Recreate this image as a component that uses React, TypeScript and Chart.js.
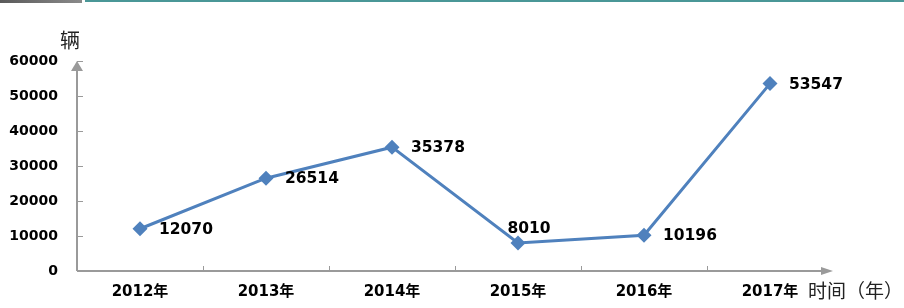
import React, { useEffect, useRef } from "react";
import { Chart, registerables } from "chart.js";

Chart.register(...registerables);

const categories = ["2012年", "2013年", "2014年", "2015年", "2016年", "2017年"];
const vehicles = [12070, 26514, 35378, 8010, 10196, 53547];
const yTicks = [0, 10000, 20000, 30000, 40000, 50000, 60000];
const yUnit = "辆";
const xUnit = "时间（年）";
const labelPlacement = ["right", "right", "right", "top", "right", "right"];

const LINE = "#4F81BD";
const AXIS = "#9a9a9a";
const FONT = '"DejaVu Sans", "Noto Sans CJK SC", sans-serif';
const CJK = '"Noto Sans CJK SC", sans-serif';

const decorPlugin = {
  id: "decor",
  beforeDraw(chart: any) {
    const ctx = chart.ctx;
    ctx.save();
    ctx.fillStyle = "#ffffff";
    ctx.fillRect(0, 0, chart.width, chart.height);
    const g = ctx.createLinearGradient(0, 0, 82, 0);
    g.addColorStop(0, "#5a5a5a");
    g.addColorStop(1, "#8a8a8a");
    ctx.fillStyle = g;
    ctx.fillRect(0, 0, 82, 3);
    ctx.fillStyle = "#4a9797";
    ctx.fillRect(85, 0, chart.width - 85, 2);
    ctx.restore();
  },
  beforeDatasetsDraw(chart: any) {
    const ctx = chart.ctx;
    const x = chart.scales.x;
    const y = chart.scales.y;
    const left = chart.chartArea.left;
    const right = chart.chartArea.right;
    const bottom = y.getPixelForValue(0);
    const top = y.getPixelForValue(yTicks[yTicks.length - 1]);
    ctx.save();
    ctx.strokeStyle = AXIS;
    ctx.fillStyle = AXIS;
    ctx.lineWidth = 2;
    ctx.beginPath();
    ctx.moveTo(left, bottom);
    ctx.lineTo(left, top + 6);
    ctx.stroke();
    ctx.beginPath();
    ctx.moveTo(left, top);
    ctx.lineTo(left - 6, top + 10);
    ctx.lineTo(left + 6, top + 10);
    ctx.closePath();
    ctx.fill();
    ctx.beginPath();
    ctx.moveTo(left, bottom);
    ctx.lineTo(right - 6, bottom);
    ctx.stroke();
    ctx.beginPath();
    ctx.moveTo(right, bottom);
    ctx.lineTo(right - 12, bottom - 4);
    ctx.lineTo(right - 12, bottom + 4);
    ctx.closePath();
    ctx.fill();
    ctx.lineWidth = 1;
    yTicks.forEach((v) => {
      if (v === 0) return;
      const py = Math.round(y.getPixelForValue(v)) + 0.5;
      ctx.beginPath();
      ctx.moveTo(left, py);
      ctx.lineTo(left + 6, py);
      ctx.stroke();
    });
    for (let i = 1; i < categories.length; i++) {
      const px = Math.round((x.getPixelForValue(i - 1) + x.getPixelForValue(i)) / 2) + 0.5;
      ctx.beginPath();
      ctx.moveTo(px, bottom);
      ctx.lineTo(px, bottom - 5);
      ctx.stroke();
    }
    ctx.fillStyle = "#222222";
    ctx.font = `20px ${CJK}`;
    ctx.textBaseline = "middle";
    ctx.textAlign = "left";
    ctx.fillText(yUnit, 60, 40);
    ctx.font = `19px ${CJK}`;
    ctx.fillText(xUnit, 808, 291);
    ctx.restore();
  },
  afterDatasetsDraw(chart: any) {
    const ctx = chart.ctx;
    const meta = chart.getDatasetMeta(0);
    ctx.save();
    ctx.fillStyle = "#000000";
    ctx.font = `bold 15.5px ${FONT}`;
    ctx.textBaseline = "middle";
    meta.data.forEach((pt: any, i: number) => {
      const text = String(vehicles[i]);
      if (labelPlacement[i] === "top") {
        ctx.textAlign = "center";
        ctx.fillText(text, pt.x + 11, pt.y - 14);
      } else {
        ctx.textAlign = "left";
        ctx.fillText(text, pt.x + 19, pt.y + 1);
      }
    });
    ctx.restore();
  },
};

export default function App() {
  const ref = useRef<HTMLCanvasElement>(null);
  useEffect(() => {
    document.body.style.margin = "0";
    const chart = new Chart(ref.current!, {
      type: "line",
      data: {
        labels: categories,
        datasets: [
          {
            data: vehicles,
            borderColor: LINE,
            backgroundColor: LINE,
            borderWidth: 3,
            pointStyle: "rectRot",
            pointRadius: 7.5,
            pointBackgroundColor: LINE,
            pointBorderColor: LINE,
            pointBorderWidth: 0,
            tension: 0,
          },
        ],
      },
      options: {
        animation: false,
        responsive: false,
        devicePixelRatio: 1,
        layout: { padding: { left: 0, top: 61, right: 71, bottom: 0 } },
        plugins: { legend: { display: false }, tooltip: { enabled: false } },
        scales: {
          x: {
            type: "category",
            offset: true,
            grid: { display: false, drawTicks: false },
            border: { display: false },
            ticks: {
              color: "#000000",
              font: { family: FONT, size: 15, weight: "bold" },
              padding: 12,
              maxRotation: 0,
              autoSkip: false,
            },
            afterFit: (s: any) => {
              s.height = 37;
            },
          },
          y: {
            min: 0,
            max: 60000,
            grid: { display: false, drawTicks: false },
            border: { display: false },
            afterBuildTicks: (s: any) => {
              s.ticks = yTicks.map((v) => ({ value: v }));
            },
            ticks: {
              color: "#000000",
              font: { family: FONT, size: 14, weight: "bold" },
              padding: 19,
              callback: (v: any) => String(v),
            },
            afterFit: (s: any) => {
              s.width = 77;
            },
          },
        },
      },
      plugins: [decorPlugin],
    });
    return () => chart.destroy();
  }, []);
  return <canvas ref={ref} width={904} height={308} style={{ display: "block" }} />;
}
